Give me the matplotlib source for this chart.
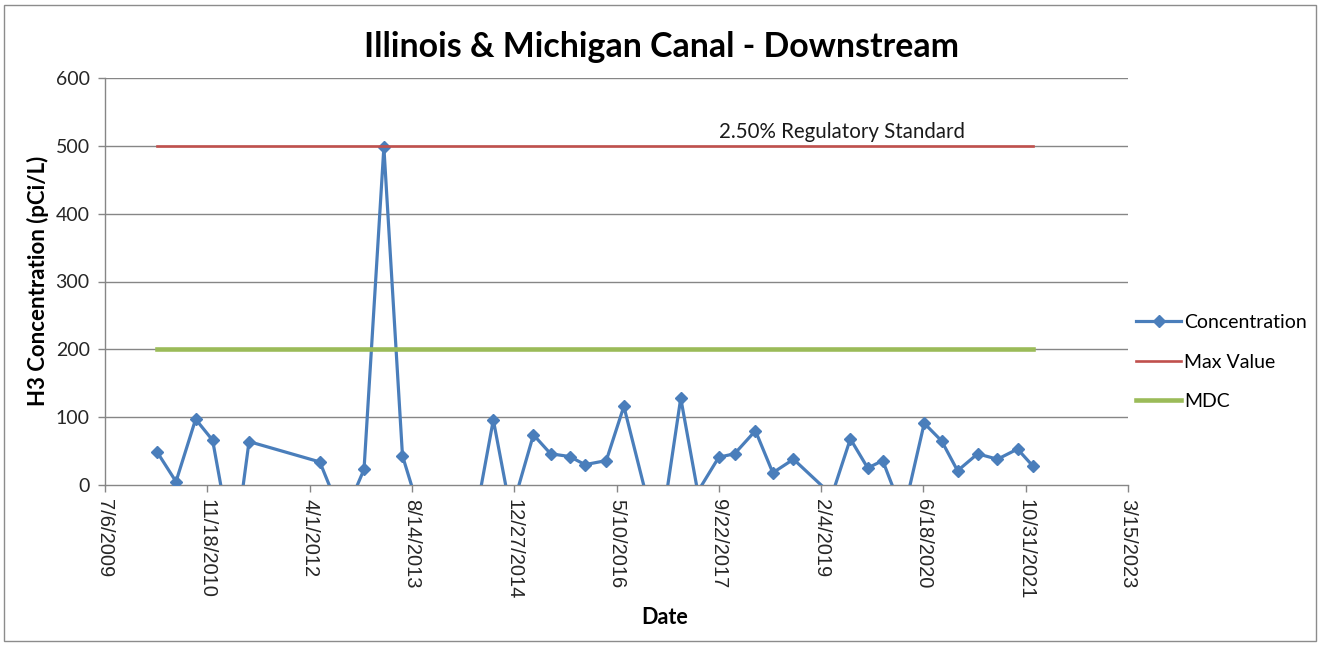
import matplotlib
matplotlib.use("Agg")
import matplotlib.pyplot as plt
from matplotlib.patches import Rectangle
import pandas as pd

# ---- data ----
sample_dates = [
    "2010-03-19", "2010-06-18", "2010-09-22", "2010-12-14", "2011-03-27",
    "2011-06-10", "2012-05-21", "2012-09-11", "2012-12-23", "2013-03-30",
    "2013-06-29", "2013-11-09", "2014-04-29", "2014-09-16", "2014-12-11",
    "2015-03-31", "2015-06-23", "2015-09-24", "2015-12-08", "2016-03-21",
    "2016-06-15", "2016-12-03", "2017-03-20", "2017-06-11", "2017-09-22",
    "2017-12-08", "2018-03-20", "2018-06-13", "2018-09-22", "2019-03-29",
    "2019-06-27", "2019-09-20", "2019-12-02", "2020-03-12", "2020-06-22",
    "2020-09-15", "2020-12-02", "2021-03-10", "2021-06-15", "2021-09-21",
    "2021-12-05",
]
concentration = [
    48, 5, 97, 66, -105,
    64, 34, -50, 23, 498,
    43, -88, -134, 96, -41,
    74, 46, 42, 30, 36,
    116, -89, 128, -10, 41,
    46, 80, 18, 38, -15,
    68, 25, 36, -43, 91,
    65, 21, 46, 38, 53,
    28,
]
max_value = 500
mdc = 200
y_ticks = [0, 100, 200, 300, 400, 500, 600]
x_tick_labels = ["7/6/2009", "11/18/2010", "4/1/2012", "8/14/2013", "12/27/2014",
                 "5/10/2016", "9/22/2017", "2/4/2019", "6/18/2020", "10/31/2021",
                 "3/15/2023"]
title = "Illinois & Michigan Canal - Downstream"
annotation = "2.50% Regulatory Standard"
annotation_date = "2019-05-19"

# ---- plot ----
dates = pd.to_datetime(sample_dates)
tick_dates = pd.to_datetime(x_tick_labels, format="%m/%d/%Y")

FONT = ["Lato", "DejaVu Sans"]
plt.rcParams["font.family"] = FONT

W, H = 1320, 646
fig = plt.figure(figsize=(W/100, H/100), dpi=100)
fig.patch.set_facecolor("white")
ax = fig.add_axes([105/W, 1-485/H, (1128-105)/W, (485-78)/H])

blue = "#4A7EBB"
red = "#C0504D"
green = "#9BBB59"
grid = "#868686"

ax.plot(dates, concentration, color=blue, lw=2.3, marker="D", ms=6.5,
        markeredgecolor=blue, markerfacecolor=blue, label="Concentration", zorder=3)
ax.plot([dates[0], dates[-1]], [max_value, max_value], color=red, lw=1.9,
        label="Max Value", zorder=4)
ax.plot([dates[0], dates[-1]], [mdc, mdc], color=green, lw=3.3,
        label="MDC", zorder=5)

ax.set_ylim(0, 600)
ax.set_xlim(tick_dates[0], tick_dates[-1])
ax.set_yticks(y_ticks)
ax.set_yticklabels([str(v) for v in y_ticks], fontsize=14, color="#262626")
ax.set_xticks(tick_dates)
ax.set_xticklabels(x_tick_labels, rotation=-90, fontsize=14.5,
                   family=["Liberation Sans", "DejaVu Sans"], color="#262626",
                   va="top", ha="center")

for y in y_ticks[1:]:
    ax.axhline(y, color=grid, lw=1.0, zorder=1)
for side in ["top", "right"]:
    ax.spines[side].set_visible(False)
for side in ["left", "bottom"]:
    ax.spines[side].set_color(grid)
    ax.spines[side].set_linewidth(1.0)
ax.tick_params(axis="both", direction="out", length=5, width=1.0, color=grid)
ax.tick_params(axis="y", pad=6)
ax.tick_params(axis="x", pad=5)

fig.text(38/W, 1-281/H, "H3 Concentration (pCi/L)", fontsize=16, fontweight="bold",
         rotation=90, ha="center", va="center")
fig.text(665/W, 1-617/H, "Date", fontsize=15.5, fontweight="bold",
         ha="center", va="center")

fig.text(661/W, 1-47/H, title, fontsize=24.4, fontweight="bold",
         ha="center", va="center")
ax.text(pd.Timestamp(annotation_date), 505, annotation, fontsize=14.8,
        ha="center", va="bottom", color="#1a1a1a")

leg = ax.legend(loc="center left", bbox_to_anchor=(1.008, 0.302), frameon=False,
                fontsize=14, handlelength=2.3, labelspacing=1.15, handletextpad=0.15,
                borderaxespad=0, borderpad=0)

fig.patches.append(Rectangle((4/W, 5/H), 1312/W, 636/H, transform=fig.transFigure,
                             fill=False, edgecolor="#8c8c8c", lw=1.0))

fig.savefig("out.png", dpi=100, facecolor="white")
